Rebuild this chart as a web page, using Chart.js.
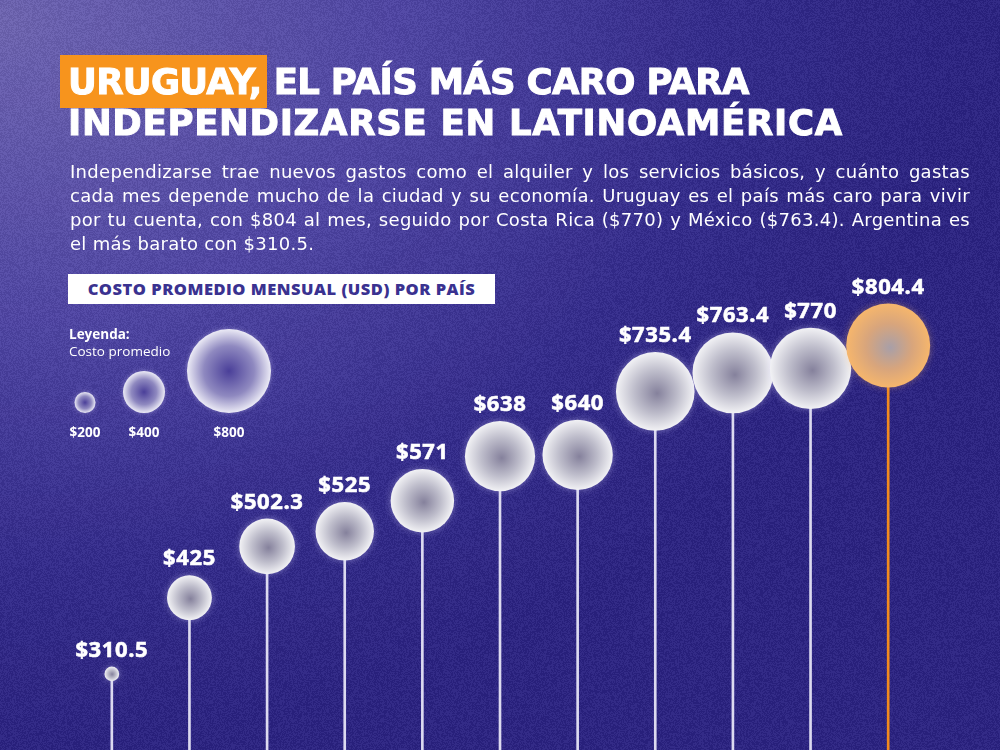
<!DOCTYPE html>
<html lang="es">
<head>
<meta charset="utf-8">
<title>Uruguay, el país más caro para independizarse</title>
<script src="https://cdn.jsdelivr.net/npm/chart.js@4.4.1/dist/chart.umd.min.js"></script>
<style>
  html, body { margin: 0; padding: 0; }
  body {
    width: 1000px; height: 750px; overflow: hidden; position: relative;
    background: radial-gradient(ellipse 950px 720px at 0px 20px, #7067b0 0%, #5148a3 40%, #332b89 75%, #2a237e 100%);
    font-family: "Open Sans", sans-serif; color: #fff;
  }
  #ruido, #chart { position: absolute; left: 0; top: 0; }
  .title {
    position: absolute; left: 68px; margin: 0;
    font-family: "DejaVu Sans", sans-serif; font-weight: bold;
    font-size: 35.5px; white-space: nowrap; line-height: 1;
    -webkit-text-stroke: 1px #fff;
  }
  .hl { background: #f7941d; padding: 6px 5px 6px 8px; margin-left: -8px; }
  .sub {
    position: absolute; left: 70px; top: 160px; width: 900px; margin: 0;
    font-family: "DejaVu Sans", sans-serif;
    font-size: 18px; line-height: 24px; letter-spacing: 0.3px;
  }
  .sub span { display: block; white-space: nowrap; text-align: justify; text-align-last: justify; }
  .sub span.ult { text-align: left; text-align-last: left; }
  .tag {
    position: absolute; left: 68px; top: 274px; width: 427px; height: 30px;
    background: #fff; color: #3a3290; font-weight: 800; font-size: 16.5px;
    line-height: 30px; text-align: center; letter-spacing: 0.5px;
  }
  .ley { position: absolute; left: 69px; top: 326px; font-size: 13.5px; line-height: 17px; }
</style>
</head>
<body>
<canvas id="ruido" width="1000" height="750"></canvas>
<canvas id="chart" width="1000" height="750"></canvas>
<h1 class="title" style="top:64px; letter-spacing:-0.7px"><span class="hl">URUGUAY,</span><span style="margin-left:7px">EL PAÍS MÁS CARO PARA</span></h1>
<h1 class="title" style="top:105px; letter-spacing:0.7px">INDEPENDIZARSE EN LATINOAMÉRICA</h1>
<div class="sub">
<span>Independizarse trae nuevos gastos como el alquiler y los servicios básicos, y cuánto gastas</span>
<span>cada mes depende mucho de la ciudad y su economía. Uruguay es el país más caro para vivir</span>
<span>por tu cuenta, con $804 al mes, seguido por Costa Rica ($770) y México ($763.4). Argentina es</span>
<span class="ult">el más barato con $310.5.</span>
</div>
<div class="tag">COSTO PROMEDIO MENSUAL (USD) POR PAÍS</div>
<div class="ley"><b>Leyenda:</b><br>Costo promedio</div>
<script>
// costo promedio mensual (USD), de menor a mayor
const paises = ['Argentina', 'País 2', 'País 3', 'País 4', 'País 5', 'País 6',
                'País 7', 'País 8', 'México', 'Costa Rica', 'Uruguay'];
const costos = [310.5, 425, 502.3, 525, 571, 638, 640, 735.4, 763.4, 770, 804.4];
const etiquetas = ['$310.5', '$425', '$502.3', '$525', '$571', '$638', '$640',
                   '$735.4', '$763.4', '$770', '$804.4'];
const leyendaValores = [200, 400, 800];
const leyendaEtiquetas = ['$200', '$400', '$800'];
const destacado = 'Uruguay';

// grain on the background
(function () {
  const c = document.getElementById('ruido').getContext('2d');
  const img = c.createImageData(1000, 750);
  for (let i = 0; i < img.data.length; i += 4) {
    const on = Math.random() < 0.5;
    img.data[i] = on ? 150 : 20;
    img.data[i + 1] = on ? 140 : 15;
    img.data[i + 2] = on ? 230 : 90;
    img.data[i + 3] = 22;
  }
  c.putImageData(img, 0, 0);
})();

// bubble size grows with cost above a floor
const maxCosto = Math.max(...costos);
function radio(v) {
  return 42 * Math.pow(Math.max(v - 300, 4) / (maxCosto - 300), 0.45);
}
function radioLeyenda(v) {
  return 42 * v / 800;
}

function globo(ctx, x, y, r, naranja) {
  const g = ctx.createRadialGradient(x + r * 0.05, y + r * 0.05, 0, x, y, r);
  if (naranja) {
    g.addColorStop(0, '#a89fa8');
    g.addColorStop(0.55, '#d8a57c');
    g.addColorStop(1, '#f6b66c');
  } else {
    g.addColorStop(0, '#85819c');
    g.addColorStop(0.55, '#bebdcb');
    g.addColorStop(1, '#f2f2f5');
  }
  return g;
}

const globos = {
  id: 'globos',
  afterDatasetsDraw(chart) {
    const ctx = chart.ctx;
    const meta = chart.getDatasetMeta(1);
    ctx.save();
    meta.data.forEach((pt, i) => {
      const r = radio(costos[i]);
      const naranja = paises[i] === destacado;
      ctx.save();
      ctx.shadowColor = naranja ? 'rgba(245,181,108,0.4)' : 'rgba(220,215,255,0.4)';
      ctx.shadowBlur = 7;
      ctx.beginPath();
      ctx.arc(pt.x, pt.y, r, 0, Math.PI * 2);
      ctx.fillStyle = globo(ctx, pt.x, pt.y, r, naranja);
      ctx.fill();
      ctx.restore();
      ctx.fillStyle = '#fff';
      ctx.strokeStyle = '#fff';
      ctx.lineWidth = 0.6;
      ctx.font = 'bold 22px "Open Sans", sans-serif';
      ctx.letterSpacing = '0.6px';
      ctx.textAlign = 'center';
      ctx.textBaseline = 'alphabetic';
      ctx.fillText(etiquetas[i], pt.x, pt.y - r - 10);
      ctx.strokeText(etiquetas[i], pt.x, pt.y - r - 10);
    });

    // legend bubbles, bottoms aligned
    const xs = [85, 144, 229];
    const base = 413;
    ctx.letterSpacing = '0px';
    leyendaValores.forEach((v, i) => {
      const r = radioLeyenda(v);
      const cy = base - r;
      const g = ctx.createRadialGradient(xs[i], cy, 0, xs[i], cy, r);
      g.addColorStop(0, '#4a3f99');
      g.addColorStop(0.6, '#8f89c0');
      g.addColorStop(1, '#ecebf6');
      ctx.save();
      ctx.shadowColor = 'rgba(220,215,255,0.4)';
      ctx.shadowBlur = 5;
      ctx.beginPath();
      ctx.arc(xs[i], cy, r, 0, Math.PI * 2);
      ctx.fillStyle = g;
      ctx.fill();
      ctx.restore();
      ctx.fillStyle = '#fff';
      ctx.font = 'bold 13.5px "Open Sans", sans-serif';
      ctx.textAlign = 'center';
      ctx.fillText(leyendaEtiquetas[i], xs[i], 437);
    });
    ctx.restore();
  }
};

new Chart(document.getElementById('chart'), {
  type: 'bar',
  data: {
    labels: paises,
    datasets: [{
      type: 'bar',
      data: costos,
      backgroundColor: paises.map(p => p === destacado ? '#f28a1e' : '#dcdaf0'),
      barThickness: 2,
      borderWidth: 0,
      order: 2
    }, {
      type: 'line',
      data: costos,
      showLine: false,
      pointRadius: 0,
      pointHoverRadius: 0,
      order: 1
    }]
  },
  options: {
    responsive: false,
    animation: false,
    events: [],
    layout: { padding: { left: 73, right: 73, top: 282, bottom: 0 } },
    plugins: { legend: { display: false }, tooltip: { enabled: false } },
    scales: {
      x: { display: false, offset: true, grid: { display: false } },
      y: { display: false, min: 196, max: 900, grid: { display: false } }
    }
  },
  plugins: [globos]
});
</script>
</body>
</html>
